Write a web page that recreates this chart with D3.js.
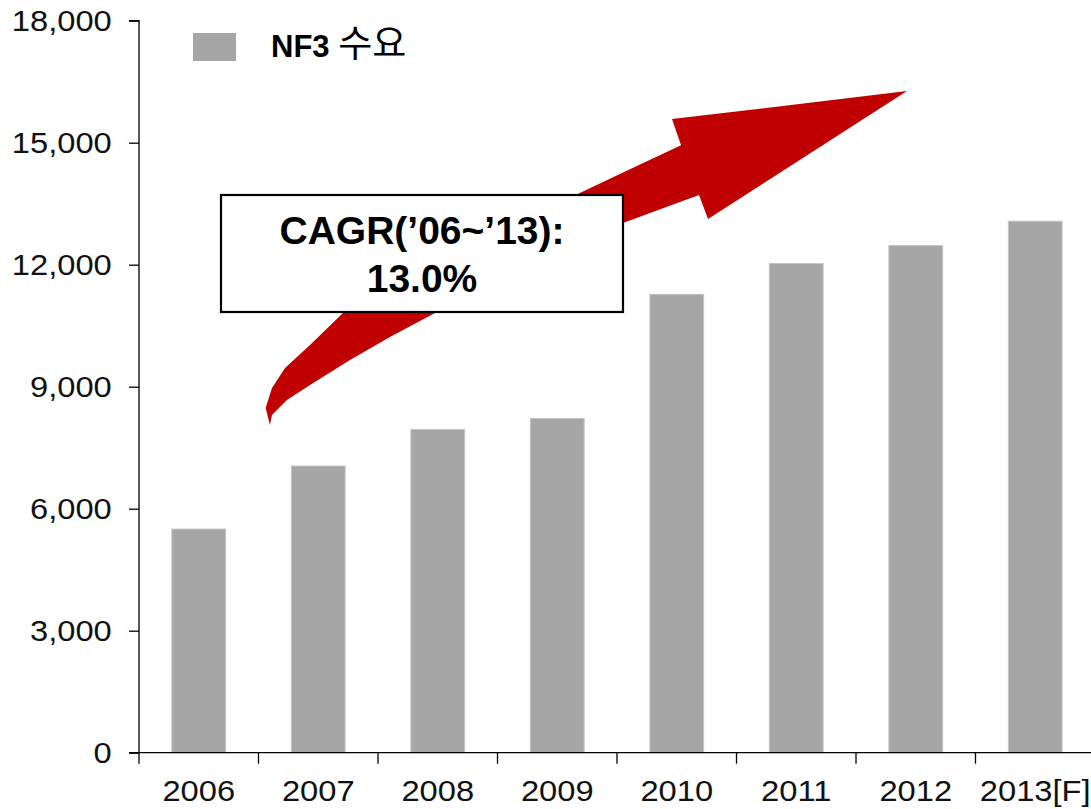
<!DOCTYPE html>
<html>
<head>
<meta charset="utf-8">
<script src="https://cdn.jsdelivr.net/npm/d3@7/dist/d3.min.js"></script>
<style>
  html, body { margin: 0; padding: 0; background: #fff; }
  svg { display: block; }
</style>
</head>
<body>
<svg id="chart" width="1091" height="809"></svg>
<script>
// ---- data ----
const categories = ["2006", "2007", "2008", "2009", "2010", "2011", "2012", "2013[F]"];
const demand = [5500, 7050, 7950, 8220, 11270, 12030, 12470, 13070];
const yTicks = [0, 3000, 6000, 9000, 12000, 15000, 18000];
const seriesName = "NF3 ";
const seriesNameKo = "수요";
const cagrLines = ["CAGR(\u201906~\u201913):", "13.0%"];

// ---- layout ----
const svg = d3.select("#chart");
const W = 1091, H = 809;
const pLeft = 139, pRight = 1095, pTop = 20.7, pBottom = 752.7;
const stretch = 1.09;

const x = d3.scaleBand().domain(categories).range([pLeft, pRight])
  .paddingInner(0.55).paddingOuter(0.275);
const y = d3.scaleLinear().domain([0, 18000]).range([pBottom, pTop]);

// bars
svg.append("g").selectAll("rect").data(categories).join("rect")
  .attr("x", d => x(d))
  .attr("width", x.bandwidth())
  .attr("y", (d, i) => y(demand[i]))
  .attr("height", (d, i) => y(0) - y(demand[i]))
  .attr("fill", "#a6a6a6")
  .attr("stroke", "#c4c4c4")
  .attr("stroke-width", 1);

// y axis
const yAxis = svg.append("g").attr("transform", `translate(${pLeft},0)`)
  .call(d3.axisLeft(y).tickValues(yTicks).tickSize(10).tickPadding(15)
    .tickFormat(d3.format(",")));
yAxis.select(".domain").attr("d", `M-10,${pTop}H0V${pBottom}`).attr("stroke", "#000").attr("stroke-width", 1.3);
yAxis.selectAll(".tick line").attr("stroke", "#000").attr("stroke-width", 1.3);
yAxis.selectAll(".tick text").attr("font-family", "'Liberation Sans', Arial, sans-serif")
  .attr("font-size", 30).attr("fill", "#111")
  .attr("transform", `scale(${stretch},1)`);

// x axis
const xAxis = svg.append("g").attr("transform", `translate(0,${pBottom})`)
  .call(d3.axisBottom(x).tickSize(0).tickPadding(48));
xAxis.select(".domain").attr("d", `M${pLeft - 10},0H${W}`).attr("stroke", "#000").attr("stroke-width", 1.3);
xAxis.selectAll(".tick text").attr("font-family", "'Liberation Sans', Arial, sans-serif")
  .attr("font-size", 30).attr("fill", "#111").attr("dy", "0")
  .attr("transform", `scale(${stretch},1)`);
// separator ticks between categories
const sepPos = d3.range(categories.length).map(i => pLeft + i * x.step());
xAxis.append("g").selectAll("line").data(sepPos).join("line")
  .attr("x1", d => d).attr("x2", d => d).attr("y1", 0).attr("y2", 11)
  .attr("stroke", "#000").attr("stroke-width", 1.3);

// legend
const lg = svg.append("g");
lg.append("rect").attr("x", 193).attr("y", 33).attr("width", 43).attr("height", 28).attr("fill", "#a6a6a6");
const lt = lg.append("text").attr("x", 271).attr("y", 57)
  .attr("font-family", "'Liberation Sans', Arial, sans-serif").attr("font-size", 31).attr("fill", "#000");
lt.append("tspan").attr("font-weight", "bold").text(seriesName);
lt.append("tspan").attr("font-family", "'Noto Sans CJK KR', sans-serif").attr("font-size", 37)
  .attr("font-weight", 400).text(seriesNameKo);

// growth arrow (points in [category-step units, value units])
const arrowPts = [[1.096,8059],[1.060,8477],[1.113,8968],[1.222,9460],[1.431,10026],[1.707,10813],
  [2.686,12358],[3.649,13710],[4.192,14464],[4.536,14940],[4.460,15580],[6.427,16269],
  [4.762,13123],[4.686,13713],[4.050,13025],[2.477,10813],[2.100,10223],[1.766,9658],
  [1.431,9043],[1.238,8674],[1.113,8305]];
const arrowLine = d3.line().x(d => pLeft + d[0] * x.step()).y(d => y(d[1]));
svg.append("path").attr("d", arrowLine(arrowPts) + "Z").attr("fill", "#c00000");

// CAGR callout box
const box = svg.append("g");
box.append("rect").attr("x", 221).attr("y", 195).attr("width", 402).attr("height", 117)
  .attr("fill", "#fff").attr("stroke", "#000").attr("stroke-width", 2.2);
box.selectAll("text").data(cagrLines).join("text")
  .attr("x", 422).attr("y", (d, i) => 243.5 + i * 48.3)
  .attr("text-anchor", "middle")
  .attr("font-family", "'Liberation Sans', Arial, sans-serif")
  .attr("font-weight", "bold").attr("font-size", 39).attr("fill", "#000")
  .text(d => d);
</script>
</body>
</html>
